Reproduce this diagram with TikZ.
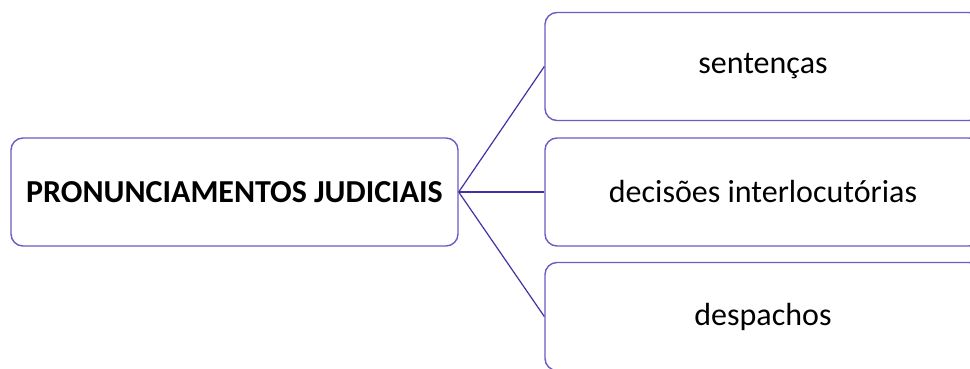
\documentclass[tikz,border=0pt]{standalone}
\usepackage{fontspec}
\setmainfont{Carlito}
\usepackage{xcolor}
\definecolor{caixa}{HTML}{6A5CC4}
\definecolor{ligacao}{HTML}{3F33A6}
\usetikzlibrary{positioning}

\tikzset{
  caixa/.style={draw=caixa, line width=1.4pt, rounded corners=12pt,
    minimum height=108pt, inner sep=0pt, font=\fontsize{32}{38}\selectfont},
  ligacao/.style={draw=ligacao, line width=1.2pt}
}

\begin{document}
\begin{tikzpicture}[x=1pt,y=1pt]
    \useasboundingbox (0,0) rectangle (970,-369);
    \clip (0,0) rectangle (970,-369);

    % Caixa da esquerda
    \node[caixa, minimum width=447pt] (pron) at (234.5,-192)
        {\textbf{PRONUNCIAMENTOS JUDICIAIS}};

    % Caixas da direita
    \node[caixa, minimum width=436pt] (sent) at (763,-66.5) {sentenças};
    \node[caixa, minimum width=436pt] (deci) at (763,-192) {decisões interlocutórias};
    \node[caixa, minimum width=436pt] (desp) at (763,-316.5) {despachos};

    % Ligações
    \foreach \alvo in {sent,deci,desp} {
        \draw[ligacao] (pron.east) -- (\alvo.west);
    }

\end{tikzpicture}
\end{document}
